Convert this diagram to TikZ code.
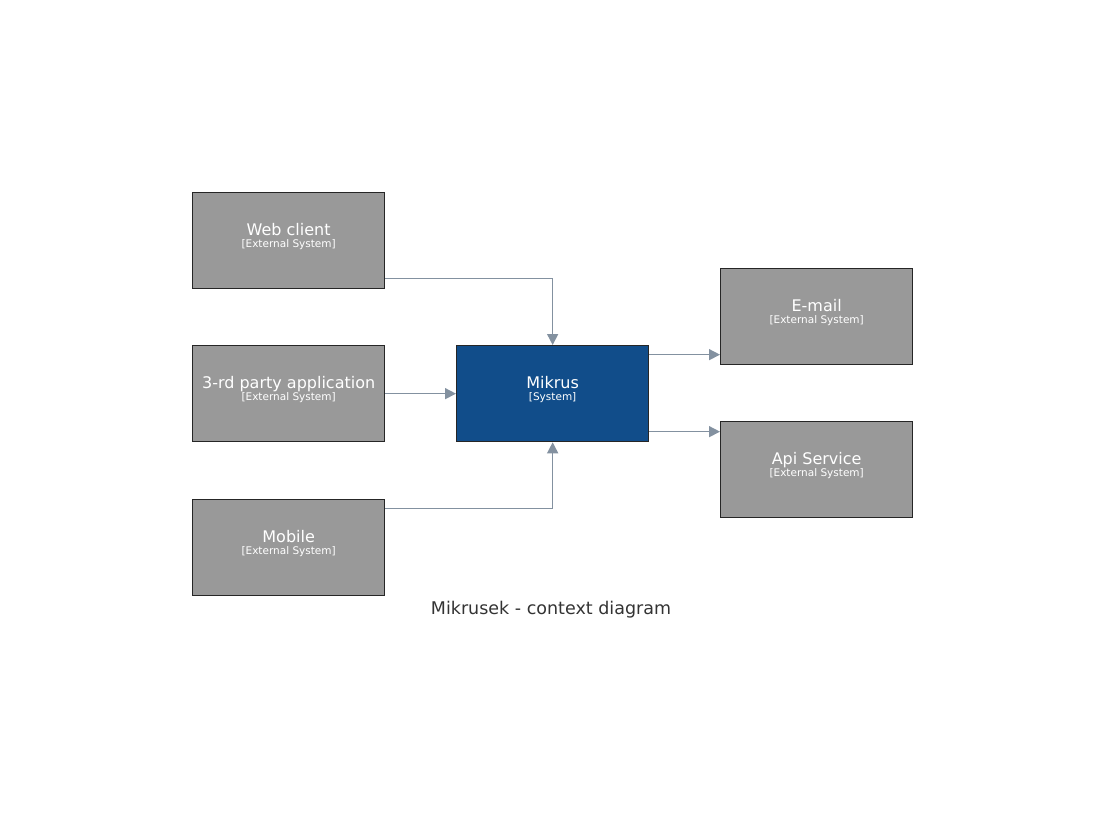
\documentclass[tikz,border=0pt]{standalone}
\usepackage{fontspec}
\setmainfont{DejaVu Sans}
\usetikzlibrary{arrows.meta}
\definecolor{extgrey}{HTML}{999999}
\definecolor{sysblue}{HTML}{114D8A}
\definecolor{linegrey}{HTML}{8391A0}
\definecolor{titlegrey}{HTML}{333333}
\tikzset{
  sysbox/.style={draw=black!85, line width=1.3pt, rectangle, anchor=north west,
    minimum width=192pt, minimum height=96pt, inner sep=0pt, text=white,
    align=center, font=\fontsize{16}{17}\selectfont},
  extbox/.style={sysbox, fill=extgrey},
  mainbox/.style={sysbox, fill=sysblue},
  conn/.style={draw=linegrey, line width=1.5pt, -{Triangle[length=11pt,width=11pt]}},
}
\newcommand{\boxlabel}[2]{#1\\[-5.5pt]{\fontsize{10.5}{11}\selectfont [#2]}\\[-7pt]\mbox{}}
\begin{document}
\begin{tikzpicture}[x=1pt,y=-1pt]
\useasboundingbox (0,0) rectangle (1104,820);
\node[extbox] (wc) at (192,192) {\boxlabel{Web client}{External System}};
\node[extbox] (tp) at (192,345) {\boxlabel{3-rd party application}{External System}};
\node[extbox] (mb) at (192,499) {\boxlabel{Mobile}{External System}};
\node[mainbox] (mk) at (456,345) {\boxlabel{Mikrus}{System}};
\node[extbox] (em) at (720,268) {\boxlabel{E-mail}{External System}};
\node[extbox] (api) at (720,421) {\boxlabel{Api Service}{External System}};
\node[text=titlegrey, font=\fontsize{17.5}{19}\selectfont] (title) at (551,610) {Mikrusek - context diagram};
\coordinate (wcout) at ([yshift=-38pt]wc.east);
\coordinate (mbout) at ([yshift=39pt]mb.east);
\coordinate (mkout1) at ([yshift=39pt]mk.east);
\coordinate (mkout2) at ([yshift=-38pt]mk.east);
\draw[conn] (wcout) -| (mk.north);
\draw[conn] (tp.east) -- (mk.west);
\draw[conn] (mbout) -| (mk.south);
\draw[conn] (mkout1) -- (mkout1 -| em.west);
\draw[conn] (mkout2) -- (mkout2 -| api.west);
\end{tikzpicture}
\end{document}
